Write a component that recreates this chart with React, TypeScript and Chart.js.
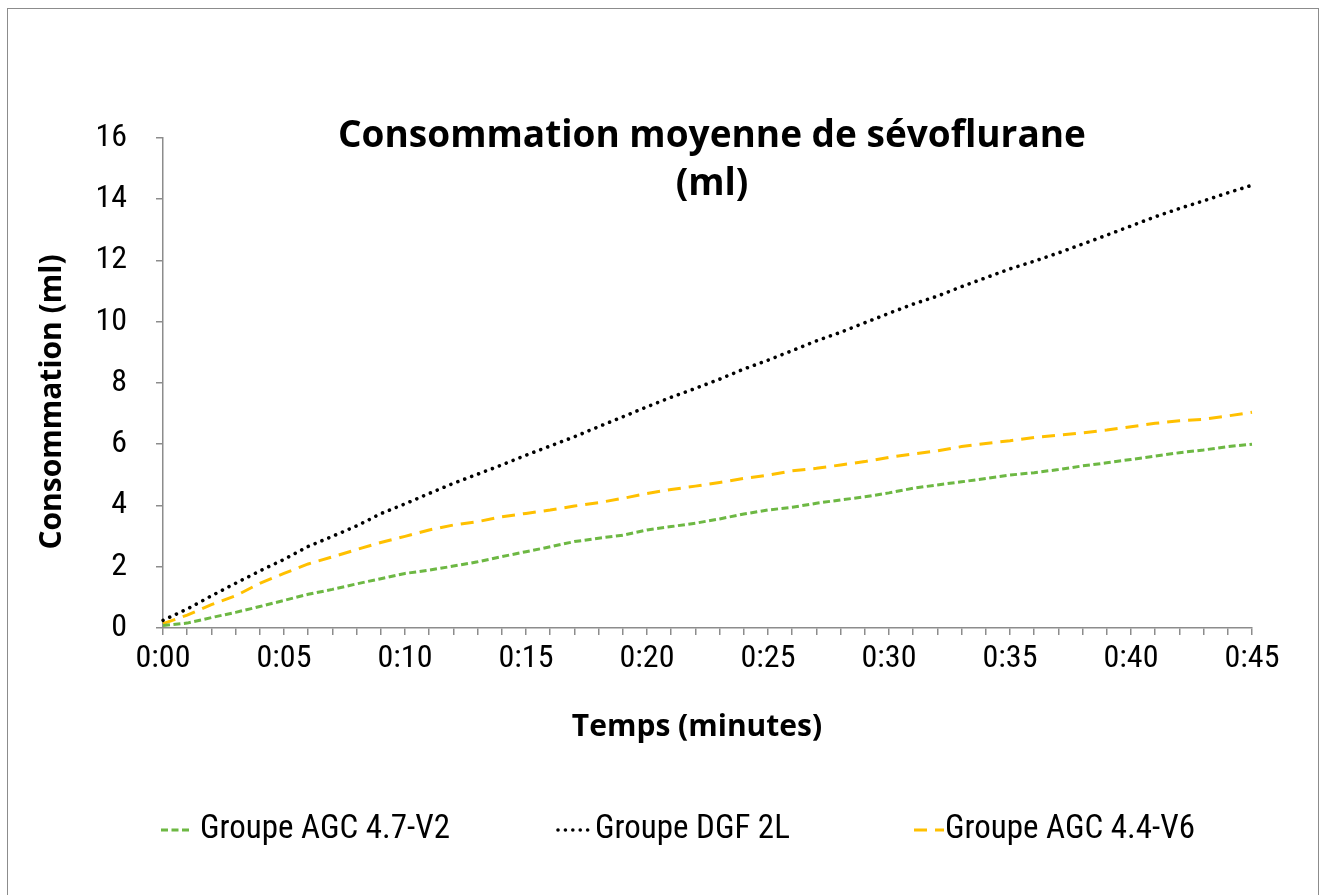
import React, { useEffect, useRef } from 'react';
import { Chart, registerables } from 'chart.js';

Chart.register(...registerables);

// Time axis (one entry per minute)
const timeLabels = [
  '0:00', '0:01', '0:02', '0:03', '0:04', '0:05', '0:06', '0:07', '0:08', '0:09',
  '0:10', '0:11', '0:12', '0:13', '0:14', '0:15', '0:16', '0:17', '0:18', '0:19',
  '0:20', '0:21', '0:22', '0:23', '0:24', '0:25', '0:26', '0:27', '0:28', '0:29',
  '0:30', '0:31', '0:32', '0:33', '0:34', '0:35', '0:36', '0:37', '0:38', '0:39',
  '0:40', '0:41', '0:42', '0:43', '0:44', '0:45',
];

// Groupe AGC 4.7-V2 (green, dashed)
const agc47V2 = [
  0.08, 0.16, 0.34, 0.51, 0.7, 0.9, 1.1, 1.26, 1.44, 1.61,
  1.78, 1.89, 2.02, 2.16, 2.33, 2.49, 2.65, 2.82, 2.93, 3.03,
  3.2, 3.31, 3.42, 3.56, 3.72, 3.85, 3.94, 4.07, 4.18, 4.28,
  4.41, 4.56, 4.67, 4.77, 4.88, 4.99, 5.07, 5.17, 5.29, 5.39,
  5.5, 5.61, 5.72, 5.81, 5.92, 6.0,
];

// Groupe DGF 2L (black, dotted)
const dgf2L = [
  0.25, 0.62, 1.05, 1.46, 1.86, 2.24, 2.66, 2.99, 3.33, 3.73,
  4.05, 4.39, 4.72, 5.02, 5.32, 5.64, 5.94, 6.24, 6.57, 6.89,
  7.22, 7.53, 7.82, 8.12, 8.45, 8.74, 9.05, 9.37, 9.65, 9.96,
  10.27, 10.57, 10.83, 11.14, 11.43, 11.72, 11.97, 12.24, 12.53, 12.82,
  13.12, 13.42, 13.69, 13.94, 14.2, 14.45,
];

// Groupe AGC 4.4-V6 (gold, long dash)
const agc44V6 = [
  0.14, 0.42, 0.76, 1.05, 1.46, 1.78, 2.09, 2.32, 2.56, 2.79,
  2.99, 3.2, 3.36, 3.47, 3.63, 3.74, 3.85, 3.98, 4.09, 4.23,
  4.39, 4.52, 4.63, 4.75, 4.88, 4.99, 5.13, 5.21, 5.32, 5.43,
  5.57, 5.68, 5.78, 5.92, 6.02, 6.11, 6.22, 6.29, 6.37, 6.46,
  6.57, 6.68, 6.76, 6.81, 6.92, 7.04,
];

const seriesNames = ['Groupe AGC 4.7-V2', 'Groupe DGF 2L', 'Groupe AGC 4.4-V6'];
const titleLines = ['Consommation moyenne de sévoflurane', '(ml)'];
const xTitle = 'Temps (minutes)';
const yTitle = 'Consommation (ml)';

const GREEN = '#6DB843';
const GOLD = '#FFC000';
const BLACK = '#000000';
const AXIS = '#8C8C8C';
const TICK_FONT = "'Roboto Condensed', 'DejaVu Sans Condensed', Roboto, sans-serif";
const BOLD_FONT = "'Open Sans', Roboto, sans-serif";

// Legend slot layout (sample start, sample width, text start) and axis-title anchors
const legendSlots = [
  { sx: 161, sw: 30, tx: 200 },
  { sx: 558, sw: 31, tx: 595 },
  { sx: 914, sw: 30, tx: 945 },
];
const LEGEND_Y = 830;
const X_TITLE_POS = { x: 697, y: 727 };
const Y_TITLE_POS = { x: 52, y: 402 };

const decorPlugin = {
  id: 'decor',
  afterDraw(chart: any) {
    const ctx = chart.ctx as CanvasRenderingContext2D;
    ctx.save();
    // axis titles
    ctx.fillStyle = '#000';
    ctx.font = `bold 30px ${BOLD_FONT}`;
    ctx.textAlign = 'center';
    ctx.textBaseline = 'middle';
    ctx.fillText(xTitle, X_TITLE_POS.x, X_TITLE_POS.y);
    ctx.save();
    ctx.translate(Y_TITLE_POS.x, Y_TITLE_POS.y);
    ctx.rotate(-Math.PI / 2);
    ctx.fillText(yTitle, 0, 0);
    ctx.restore();
    // legend
    chart.data.datasets.forEach((ds: any, i: number) => {
      const slot = legendSlots[i];
      if (!slot) return;
      ctx.save();
      ctx.strokeStyle = ds.borderColor;
      ctx.lineWidth = ds.borderWidth;
      ctx.lineCap = ds.borderCapStyle || 'butt';
      ctx.setLineDash(ds.borderDash || []);
      ctx.beginPath();
      ctx.moveTo(slot.sx, LEGEND_Y);
      ctx.lineTo(slot.sx + slot.sw, LEGEND_Y);
      ctx.stroke();
      ctx.restore();
      ctx.fillStyle = '#000';
      ctx.font = `33px ${TICK_FONT}`;
      ctx.textAlign = 'left';
      ctx.textBaseline = 'middle';
      ctx.fillText(ds.label, slot.tx, LEGEND_Y);
    });
    ctx.restore();
  },
};

export default function App() {
  const canvasRef = useRef<HTMLCanvasElement | null>(null);

  useEffect(() => {
    if (!canvasRef.current) return;
    const tickFont = { family: TICK_FONT, size: 32 };
    const chart = new Chart(canvasRef.current, {
      type: 'line',
      data: {
        labels: timeLabels,
        datasets: [
          {
            label: seriesNames[0],
            data: agc47V2,
            borderColor: GREEN,
            backgroundColor: GREEN,
            borderWidth: 3,
            borderDash: [7, 3.5],
            pointRadius: 0,
            tension: 0,
            fill: false,
          },
          {
            label: seriesNames[1],
            data: dgf2L,
            borderColor: BLACK,
            backgroundColor: BLACK,
            borderWidth: 3.6,
            borderDash: [0.01, 7.4],
            borderCapStyle: 'round',
            pointRadius: 0,
            tension: 0,
            fill: false,
          },
          {
            label: seriesNames[2],
            data: agc44V6,
            borderColor: GOLD,
            backgroundColor: GOLD,
            borderWidth: 3,
            borderDash: [13, 8],
            pointRadius: 0,
            tension: 0,
            fill: false,
          },
        ],
      },
      options: {
        responsive: false,
        animation: false,
        devicePixelRatio: 1,
        layout: { padding: { left: 72, right: 70, top: 137.7, bottom: 157 } },
        plugins: {
          title: { display: false },
          tooltip: { enabled: false },
          legend: { display: false },
        },
        scales: {
          x: {
            type: 'category',
            offset: false,
            grid: {
              display: true,
              drawOnChartArea: false,
              drawTicks: true,
              tickLength: 7,
              color: AXIS,
              lineWidth: 1.5,
            },
            border: { display: true, color: AXIS, width: 1.5 },
            ticks: {
              autoSkip: false,
              maxRotation: 0,
              minRotation: 0,
              padding: 5,
              color: '#000',
              font: tickFont,
              callback: (_v: any, i: number) => (i % 5 === 0 ? timeLabels[i] : ''),
            },
            afterFit: (s: any) => {
              s.height = 110;
            },
          },
          y: {
            min: 0,
            max: 16,
            grid: {
              display: true,
              drawOnChartArea: false,
              drawTicks: true,
              tickLength: 7,
              color: AXIS,
              lineWidth: 1.5,
            },
            border: { display: true, color: AXIS, width: 1.5 },
            ticks: {
              stepSize: 2,
              padding: 29,
              color: '#000',
              font: tickFont,
            },
            afterFit: (s: any) => {
              s.width = 91;
            },
          },
        },
      },
      plugins: [decorPlugin],
    } as any);
    return () => chart.destroy();
  }, []);

  return (
    <div
      style={{
        position: 'absolute',
        left: 0,
        top: 0,
        width: 1322,
        height: 895,
        overflow: 'hidden',
        background: '#fff',
      }}
    >
      <div
        style={{
          position: 'absolute',
          left: 7,
          top: 8,
          width: 1312,
          height: 900,
          border: `1.5px solid ${AXIS}`,
          boxSizing: 'border-box',
        }}
      />
      <canvas
        ref={canvasRef}
        width={1322}
        height={895}
        style={{ position: 'absolute', left: 0, top: 0, width: 1322, height: 895 }}
      />
      <div
        style={{
          position: 'absolute',
          left: 0,
          top: 109,
          width: 1424,
          textAlign: 'center',
          fontFamily: BOLD_FONT,
          fontWeight: 700,
          fontSize: 37,
          lineHeight: '48px',
          color: '#000',
          pointerEvents: 'none',
        }}
      >
        {titleLines.map((t) => (
          <div key={t}>{t}</div>
        ))}
      </div>
    </div>
  );
}
